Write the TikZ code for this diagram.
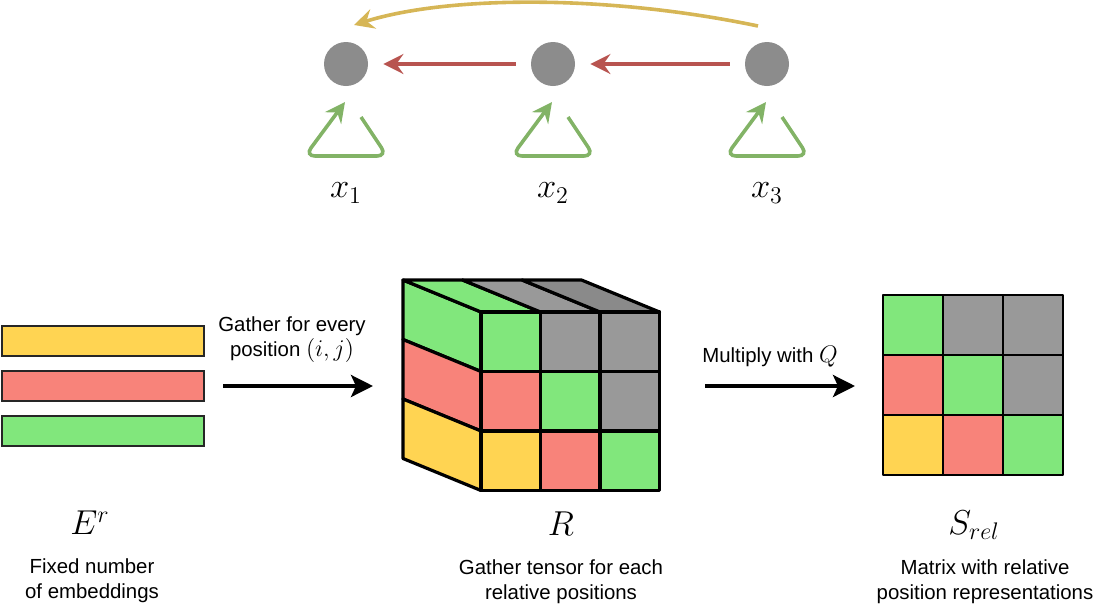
\documentclass[tikz,border=0pt]{standalone}
\usepackage{fontspec}
\newfontfamily\labelfont{Liberation Sans}
\usetikzlibrary{arrows.meta}
\definecolor{cgreen}{HTML}{81E77C}
\definecolor{cred}{HTML}{F8837A}
\definecolor{cyellow}{HTML}{FFD452}
\definecolor{cgray}{HTML}{999999}
\definecolor{cdgray}{HTML}{8A8A8A}
\definecolor{dotgray}{HTML}{8C8C8C}
\definecolor{lred}{HTML}{B85450}
\definecolor{lyellow}{HTML}{D6B656}
\definecolor{lgreen}{HTML}{82B366}

\begin{document}
\begin{tikzpicture}[x=0.5pt, y=-0.5pt,
  dot/.style={circle, fill=dotgray, minimum size=22pt, inner sep=0pt},
  link/.style={line width=1.8pt, -{Stealth[length=10pt, width=10pt, inset=3.5pt]}},
  flow/.style={line width=1.8pt, -{Stealth[length=11pt, width=11pt, inset=2.5pt]}},
  cell/.style={draw, line width=1.6pt, line join=round},
  bar/.style={draw=black!85, line width=1pt, minimum width=101pt, minimum height=15pt, inner sep=0pt},
  txt/.style={font=\labelfont\fontsize{10.2}{12.5}\selectfont, align=center},
  sym/.style={font=\LARGE}]
\useasboundingbox (0,0) rectangle (1094,611);
% Tokens
\foreach \i/\x in {1/346,2/553,3/767} {
  \node[dot] (n\i) at (\x,64) {};
  \node[sym] (x\i) at (\x,193) {$x_\i$};
  \draw[link, lgreen, rounded corners=5pt] ([shift={(15,53)}]n\i.center) -- ([shift={(41,92)}]n\i.center)
    -- ([shift={(-41,92)}]n\i.center) -- ([shift={(-1,38)}]n\i.center);
}
\draw[link, lred, shorten <=7.5pt, shorten >=7.5pt] (n2) -- (n1);
\draw[link, lred, shorten <=7.5pt, shorten >=7.5pt] (n3) -- (n2);
\draw[link, lyellow] ([shift={(-9,-38)}]n3.center) .. controls (610,-5) and (450,-5) .. ([shift={(8,-39)}]n1.center);
% Embeddings
\foreach \i/\c/\y in {1/cyellow/341,2/cred/386,3/cgreen/431}
  \node[bar, fill=\c] (e\i) at (103,\y) {};
\node[sym] (Er) at (90,523) {$E^r$};
\node[txt] (Edesc) at (92,581) {Fixed number\\of embeddings};
\coordinate (g1) at (223,386);
\coordinate (g2) at (373,386);
\draw[flow] (g1) -- (g2);
\node[txt] (gather) at (292,340) {Gather for every\\position {\large$(i,j)$}};
% Tensor R
\foreach \r/\c in {0/cgreen,1/cred,2/cyellow}
  \draw[cell, fill=\c] (481,312+59.5*\r) -- ++(-78,-32) -- ++(0,59.5) -- ++(78,32) -- cycle;
\foreach \k/\c in {0/cgreen,1/cgray,2/cdgray}
  \draw[cell, fill=\c] (481+59.5*\k,312) -- ++(-78,-32) -- ++(59.5,0) -- ++(78,32) -- cycle;
\foreach \k/\r/\c in {0/0/cgreen,1/0/cgray,2/0/cgray,0/1/cred,1/1/cgreen,2/1/cgray,0/2/cyellow,1/2/cred,2/2/cgreen}
  \draw[cell, fill=\c] (481+59.5*\k,312+59.5*\r) rectangle ++(59.5,59.5);
\node[sym] (R) at (561,524) {$R$};
\node[txt] (Rdesc) at (561,582) {Gather tensor for each\\relative positions};
% Matrix S_rel
\coordinate (m1) at (705,386);
\coordinate (m2) at (855,386);
\draw[flow] (m1) -- (m2);
\node[txt] (mult) at (770,357) {Multiply with {\large$Q$}};
\foreach \k/\r/\c in {0/0/cgreen,1/0/cgray,2/0/cgray,0/1/cred,1/1/cgreen,2/1/cgray,0/2/cyellow,1/2/cred,2/2/cgreen}
  \draw[cell, line width=1.3pt, fill=\c] (883+60*\k,295+60*\r) rectangle ++(60,60);
\node[sym] (Srel) at (974,525) {$S_{rel}$};
\node[txt] (Sdesc) at (985,582) {Matrix with relative\\position representations};
\end{tikzpicture}
\end{document}
